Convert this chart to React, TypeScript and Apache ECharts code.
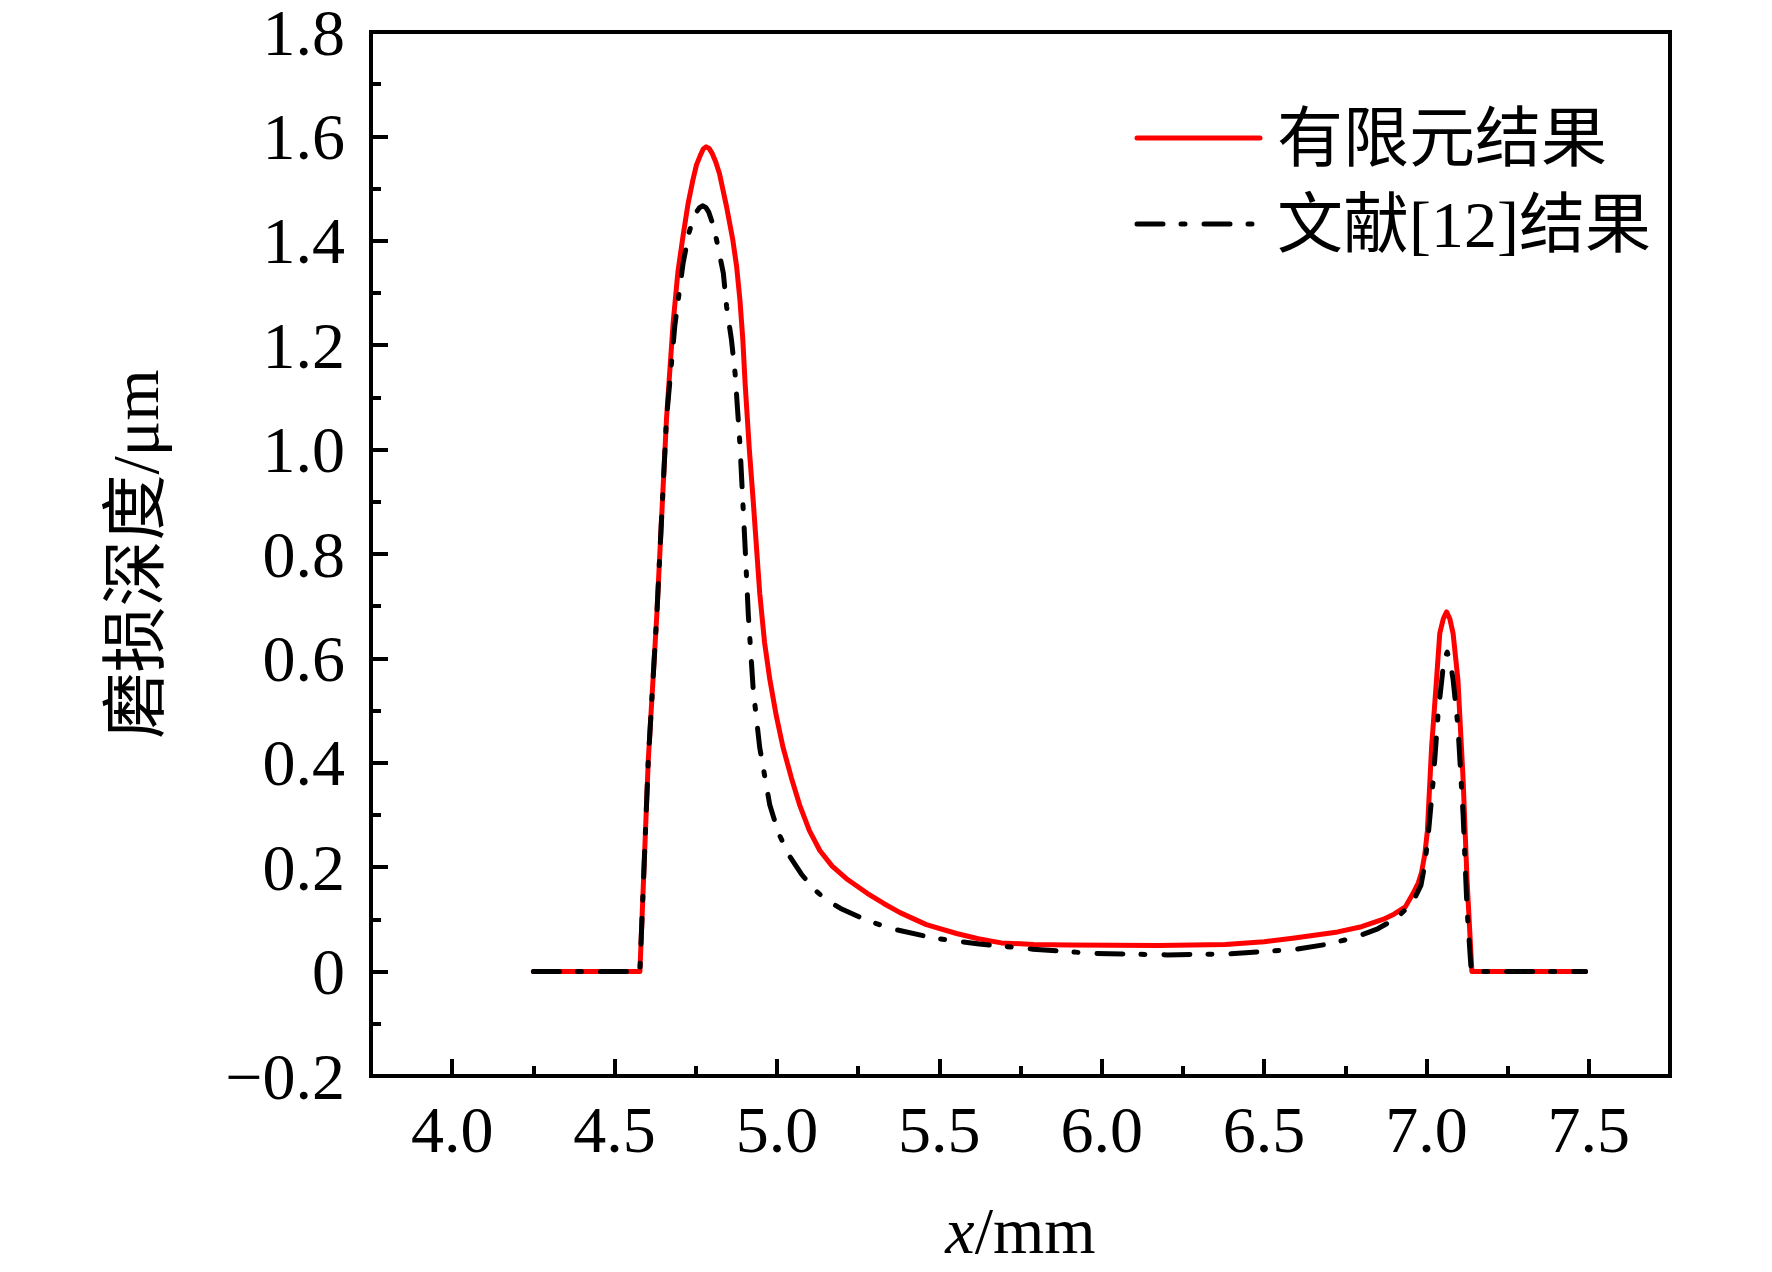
import React, { useEffect, useRef } from "react";
import * as echarts from "echarts";

const SERIES_NAMES = ["有限元结果", "文献[12]结果"];

const FEM_X = [4.25, 4.578, 4.604, 4.63, 4.66, 4.68, 4.695, 4.711, 4.726, 4.741, 4.752, 4.765, 4.773, 4.782, 4.791, 4.8, 4.811, 4.823, 4.845, 4.864, 4.876, 4.886, 4.895, 4.902, 4.915, 4.927, 4.947, 4.962, 4.978, 4.998, 5.019, 5.045, 5.07, 5.1, 5.132, 5.17, 5.214, 5.278, 5.33, 5.379, 5.46, 5.553, 5.62, 5.691, 5.79, 5.898, 6.174, 6.381, 6.5, 6.588, 6.727, 6.8, 6.866, 6.9, 6.935, 6.959, 6.975, 6.985, 6.995, 7.003, 7.016, 7.031, 7.041, 7.052, 7.062, 7.072, 7.082, 7.097, 7.113, 7.125, 7.14, 7.49];
const FEM_Y = [0, 0, 0.407, 0.682, 1.06, 1.24, 1.34, 1.41, 1.47, 1.516, 1.545, 1.565, 1.576, 1.58, 1.577, 1.568, 1.552, 1.529, 1.465, 1.402, 1.35, 1.287, 1.21, 1.127, 1.0, 0.901, 0.725, 0.63, 0.56, 0.49, 0.429, 0.37, 0.319, 0.27, 0.232, 0.202, 0.178, 0.15, 0.13, 0.113, 0.09, 0.073, 0.063, 0.055, 0.052, 0.051, 0.05, 0.052, 0.057, 0.064, 0.076, 0.086, 0.1, 0.11, 0.124, 0.15, 0.17, 0.19, 0.225, 0.27, 0.431, 0.559, 0.648, 0.676, 0.689, 0.676, 0.648, 0.559, 0.367, 0.176, 0, 0];

const REF_X = [4.25, 4.578, 4.604, 4.63, 4.66, 4.686, 4.711, 4.729, 4.74, 4.752, 4.761, 4.771, 4.781, 4.79, 4.802, 4.814, 4.835, 4.845, 4.86, 4.871, 4.886, 4.902, 4.912, 4.927, 4.947, 4.978, 5.005, 5.039, 5.075, 5.111, 5.15, 5.196, 5.27, 5.347, 5.485, 5.623, 5.788, 5.968, 6.202, 6.395, 6.602, 6.7, 6.783, 6.85, 6.907, 6.944, 6.965, 6.983, 6.995, 7.005, 7.021, 7.036, 7.054, 7.064, 7.074, 7.082, 7.097, 7.113, 7.125, 7.138, 7.49];
const REF_Y = [0, 0, 0.407, 0.682, 1.06, 1.24, 1.357, 1.415, 1.438, 1.455, 1.463, 1.467, 1.464, 1.455, 1.433, 1.402, 1.338, 1.274, 1.21, 1.147, 1.011, 0.813, 0.682, 0.54, 0.429, 0.319, 0.265, 0.221, 0.187, 0.16, 0.138, 0.121, 0.1, 0.083, 0.064, 0.053, 0.043, 0.035, 0.032, 0.034, 0.043, 0.053, 0.066, 0.082, 0.102, 0.124, 0.142, 0.165, 0.205, 0.258, 0.367, 0.495, 0.597, 0.612, 0.59, 0.56, 0.47, 0.3, 0.12, 0, 0];

const X_EXTENT = [3.75, 7.75];
const X_TICK_EXTENT = [4.0, 7.5];
const X_STEP = 0.5;
const Y_EXTENT = [-0.2, 1.8];
const Y_STEP = 0.2;
const X_NAME = "{i|x}/mm";
const Y_NAME = "磨损深度/μm";

const SERIF = "'Liberation Serif', 'Noto Sans CJK SC', serif";
const RED = "#ff0000";
const DASH = [26, 18, 4, 19];
const LINE_W = 5;

export default function App() {
  const ref = useRef<HTMLDivElement>(null);

  useEffect(() => {
    if (!ref.current) return;
    const chart = echarts.init(ref.current, null, { renderer: "svg" });

    const G = { left: 371, top: 32, width: 1299, height: 1044 };
    const span = X_EXTENT[1] - X_EXTENT[0];
    const g1Left = G.left + (G.width * (X_TICK_EXTENT[0] - X_EXTENT[0])) / span;
    const g1Width = (G.width * (X_TICK_EXTENT[1] - X_TICK_EXTENT[0])) / span;

    const tickStyle = { color: "#000", width: 4 };

    const LEG = { x1: 1137, x2: 1260, textX: 1277, rows: [138, 224] };

    const legendText = (name: string, y: number) => ({
      type: "text",
      x: LEG.textX,
      y,
      style: {
        text: name,
        fontSize: 66,
        fontFamily: SERIF,
        fill: "#000",
        align: "left",
        verticalAlign: "middle",
        textAlign: "left",
        textVerticalAlign: "middle",
      },
      z: 10,
    });

    const option: any = {
      animation: false,
      backgroundColor: "#fff",
      grid: [
        {
          left: G.left,
          top: G.top,
          width: G.width,
          height: G.height,
          show: true,
          borderColor: "#000",
          borderWidth: 4,
          backgroundColor: "transparent",
          containLabel: false,
          outerBoundsMode: "none",
        },
        {
          left: g1Left,
          top: G.top,
          width: g1Width,
          height: G.height,
          show: false,
          containLabel: false,
          outerBoundsMode: "none",
        },
      ],
      xAxis: [
        {
          type: "value",
          gridIndex: 0,
          min: X_EXTENT[0],
          max: X_EXTENT[1],
          axisLine: { show: true, onZero: false, lineStyle: { color: "#000", width: 4 } },
          axisTick: { show: false },
          axisLabel: { show: false },
          splitLine: { show: false },
          name: X_NAME,
          nameLocation: "middle",
          nameGap: 121,
          nameMoveOverlap: false,
          nameTextStyle: {
            fontSize: 66,
            fontFamily: SERIF,
            color: "#000",
            rich: {
              i: { fontSize: 66, fontFamily: SERIF, fontStyle: "italic", color: "#000" },
            },
          },
        },
        {
          type: "value",
          gridIndex: 1,
          min: X_TICK_EXTENT[0],
          max: X_TICK_EXTENT[1],
          interval: X_STEP,
          axisLine: { show: false, onZero: false },
          axisTick: { show: true, inside: true, length: 17, lineStyle: tickStyle },
          minorTick: { show: true, splitNumber: 2, length: 10, lineStyle: tickStyle },
          axisLabel: {
            show: true,
            margin: 20,
            fontSize: 66,
            fontFamily: SERIF,
            color: "#000",
            formatter: (v: number) => v.toFixed(1),
          },
          splitLine: { show: false },
          minorSplitLine: { show: false },
        },
      ],
      yAxis: [
        {
          type: "value",
          gridIndex: 0,
          min: Y_EXTENT[0],
          max: Y_EXTENT[1],
          interval: Y_STEP,
          axisLine: { show: true, onZero: false, lineStyle: { color: "#000", width: 4 } },
          axisTick: { show: true, inside: true, length: 17, lineStyle: tickStyle },
          minorTick: { show: true, splitNumber: 2, length: 10, lineStyle: tickStyle },
          axisLabel: {
            show: true,
            margin: 26,
            fontSize: 66,
            lineHeight: 56,
            fontFamily: SERIF,
            color: "#000",
            formatter: (v: number) => {
              if (Math.abs(v) < 1e-9) return "0";
              if (v < 0) return "\u2212" + Math.abs(v).toFixed(1);
              return v.toFixed(1);
            },
          },
          splitLine: { show: false },
          name: Y_NAME,
          nameLocation: "middle",
          nameGap: 203,
          nameRotate: 90,
          nameMoveOverlap: false,
          nameTextStyle: { fontSize: 66, fontFamily: SERIF, color: "#000" },
        },
        {
          type: "value",
          gridIndex: 1,
          min: Y_EXTENT[0],
          max: Y_EXTENT[1],
          show: false,
        },
      ],
      graphic: [
        {
          type: "line",
          shape: { x1: LEG.x1, y1: LEG.rows[0], x2: LEG.x2, y2: LEG.rows[0] },
          style: { stroke: RED, lineWidth: LINE_W, lineCap: "round" },
          z: 10,
        },
        {
          type: "line",
          shape: { x1: LEG.x1, y1: LEG.rows[1], x2: LEG.x2, y2: LEG.rows[1] },
          style: { stroke: "#000", lineWidth: LINE_W, lineCap: "round", lineDash: DASH },
          z: 10,
        },
        legendText(SERIES_NAMES[0], LEG.rows[0]),
        legendText(SERIES_NAMES[1], LEG.rows[1]),
      ],
      series: [
        {
          name: SERIES_NAMES[0],
          type: "line",
          xAxisIndex: 0,
          yAxisIndex: 0,
          symbol: "none",
          showSymbol: false,
          data: FEM_X.map((x, i) => [x, FEM_Y[i]]),
          lineStyle: { color: RED, width: LINE_W, cap: "round", join: "round" },
          itemStyle: { color: RED },
          z: 3,
        },
        {
          name: SERIES_NAMES[1],
          type: "line",
          xAxisIndex: 0,
          yAxisIndex: 0,
          symbol: "none",
          showSymbol: false,
          data: REF_X.map((x, i) => [x, REF_Y[i]]),
          lineStyle: { color: "#000", width: LINE_W, type: DASH, cap: "round", join: "round" },
          itemStyle: { color: "#000" },
          z: 4,
        },
      ],
    };

    chart.setOption(option);
    return () => {
      chart.dispose();
    };
  }, []);

  return (
    <div
      ref={ref}
      style={{ position: "absolute", left: 0, top: 0, width: 1772, height: 1272, background: "#fff" }}
    />
  );
}
